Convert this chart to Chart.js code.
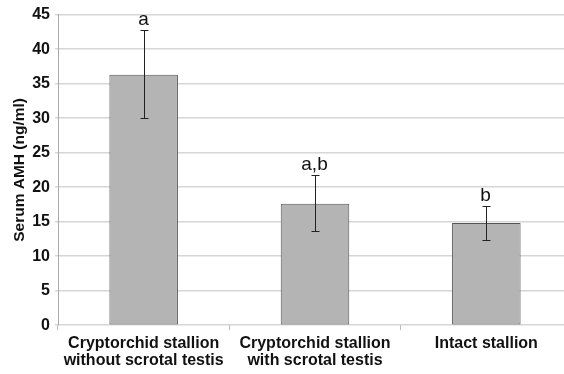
<!DOCTYPE html>
<html>
<head>
<meta charset="utf-8">
<script src="https://cdn.jsdelivr.net/npm/chart.js@4/dist/chart.umd.min.js"></script>
<style>
  html, body { margin: 0; padding: 0; background: #fff; overflow: hidden; }
  #wrap { width: 574px; height: 374px; }
</style>
</head>
<body>
<div id="wrap"><canvas id="amh"></canvas></div>
<script>
var grupos = [
    ['Cryptorchid stallion', 'without scrotal testis'],
    ['Cryptorchid stallion', 'with scrotal testis'],
    'Intact stallion'
];
var amhMedia = [36.3, 17.6, 14.8];
var amhErroSup = [42.7, 21.7, 17.2];
var amhErroInf = [30.0, 13.6, 12.3];
var letras = ['a', 'a,b', 'b'];

// barras de erro e letras de significancia
var errosPlugin = {
    id: 'erros',
    afterDatasetsDraw: function (chart) {
        var ctx = chart.ctx;
        var x = chart.scales.x;
        var y = chart.scales.y;
        ctx.save();
        ctx.strokeStyle = '#222';
        ctx.lineWidth = 1;
        for (var i = 0; i < amhMedia.length; i++) {
            var cx = Math.round(x.getPixelForValue(i)) + 0.5;
            var yt = Math.round(y.getPixelForValue(amhErroSup[i])) + 0.5;
            var yb = Math.round(y.getPixelForValue(amhErroInf[i])) + 0.5;
            ctx.beginPath();
            ctx.moveTo(cx, yt); ctx.lineTo(cx, yb);
            ctx.moveTo(cx - 4, yt); ctx.lineTo(cx + 4, yt);
            ctx.moveTo(cx - 4, yb); ctx.lineTo(cx + 4, yb);
            ctx.stroke();
            ctx.fillStyle = '#111';
            ctx.font = '19px "Liberation Sans", Arial, sans-serif';
            ctx.textAlign = 'center';
            ctx.textBaseline = 'bottom';
            ctx.fillText(letras[i], cx - 1, yt - 1);
        }
        ctx.restore();
    }
};

var ctx = document.getElementById('amh').getContext('2d');
var amhChart = new Chart(ctx, {
    type: 'bar',
    data: {
        labels: grupos,
        datasets: [{
            data: amhMedia,
            backgroundColor: '#b4b4b4',
            borderColor: '#555555',
            borderWidth: 1,
            borderSkipped: false,
            barPercentage: 0.4,
            categoryPercentage: 1.0
        }]
    },
    options: {
        responsive: true,
        maintainAspectRatio: false,
        animation: false,
        layout: { padding: { top: 7, right: 2, left: 10, bottom: 0 } },
        plugins: {
            legend: { display: false },
            tooltip: { enabled: false }
        },
        scales: {
            x: {
                grid: {
                    offset: true,
                    drawOnChartArea: false,
                    drawTicks: true,
                    tickLength: 5,
                    color: '#bbbbbb'
                },
                border: { display: false },
                ticks: {
                    color: '#111',
                    padding: 4,
                    maxRotation: 0,
                    font: { family: '"Liberation Sans", Arial, sans-serif', size: 16, weight: 'bold', lineHeight: 1.12 }
                }
            },
            y: {
                min: 0,
                max: 45,
                afterFit: function (scale) { scale.width = 48; },
                ticks: {
                    stepSize: 5,
                    color: '#111',
                    padding: 5,
                    font: { family: '"Liberation Sans", Arial, sans-serif', size: 16, weight: 'bold' }
                },
                grid: {
                    color: '#d6d6d6',
                    lineWidth: 1.5,
                    tickLength: 3
                },
                border: { color: '#aaaaaa' },
                title: {
                    display: true,
                    text: 'Serum AMH (ng/ml)',
                    color: '#111',
                    padding: 0,
                    font: { family: '"Liberation Sans", Arial, sans-serif', size: 15.5, weight: 'bold' }
                }
            }
        }
    },
    plugins: [errosPlugin]
});
</script>
</body>
</html>
